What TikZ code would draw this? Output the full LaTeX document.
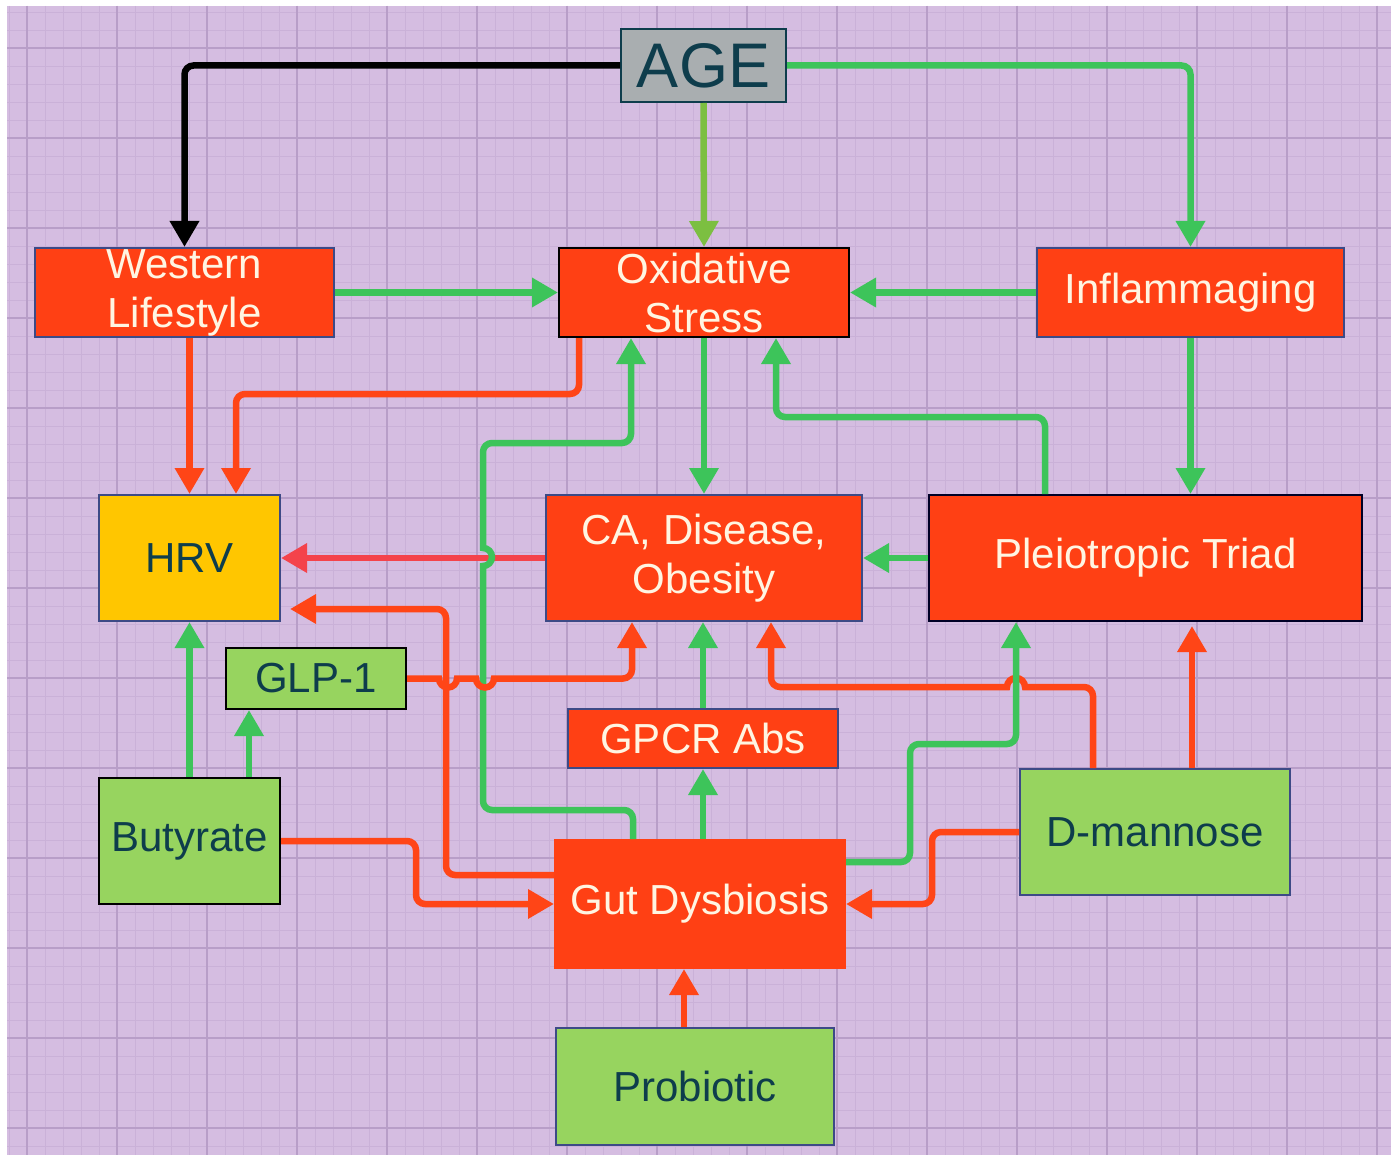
\documentclass[tikz,border=0pt]{standalone}
\usepackage{fontspec}
\setmainfont{Liberation Sans}
\usetikzlibrary{arrows.meta}
\definecolor{bgcol}{HTML}{D5BDE1}
\definecolor{mingrid}{HTML}{CAB1D8}
\definecolor{majgrid}{HTML}{B89EC8}
\definecolor{boxred}{HTML}{FF4014}
\definecolor{boxgreen}{HTML}{97D45F}
\definecolor{boxyellow}{HTML}{FFC600}
\definecolor{boxgrey}{HTML}{A9AEB0}
\definecolor{edgeblue}{HTML}{3D4A86}
\definecolor{textcream}{HTML}{FFF5E2}
\definecolor{textdark}{HTML}{0E3D4C}
\definecolor{linegreen}{HTML}{3DC45A}
\definecolor{lineolive}{HTML}{7CBF41}
\definecolor{linered}{HTML}{FF4517}
\definecolor{linepink}{HTML}{F4434B}
\tikzset{
  box/.style={draw=edgeblue, line width=2pt, inner sep=0pt, align=center,
    font=\fontsize{42}{49}\selectfont},
  redbox/.style={box, fill=boxred, text=textcream},
  greenbox/.style={box, fill=boxgreen, text=textdark},
  link/.style={line width=6.5pt, rounded corners=9pt, -{Triangle[width=28pt,length=26pt]}},
  gline/.style={link, draw=linegreen},
  rline/.style={link, draw=linered},
}
\begin{document}
\begin{tikzpicture}[x=1pt,y=1pt]
\useasboundingbox (0,0) rectangle (1396,-1155);
\fill[white] (0,0) rectangle (1396,-1155);
\fill[bgcol] (7,-6) rectangle (1391,-1155);
% grid
\foreach \x in {9,27,...,1377} \draw[mingrid, line width=0.8pt] (\x,-6) -- (\x,-1155);
\foreach \y in {12,30,...,1146} \draw[mingrid, line width=0.8pt] (7,-\y) -- (1391,-\y);
\foreach \x in {27,117,...,1377} \draw[majgrid, line width=1.3pt] (\x,-6) -- (\x,-1155);
\foreach \y in {48,138,...,1128} \draw[majgrid, line width=1.3pt] (7,-\y) -- (1391,-\y);

% boxes
\node[box, fill=boxgrey, draw=textdark, text=textdark, font=\fontsize{63}{70}\selectfont,
  minimum width=165pt, minimum height=73pt] (age) at (703.5,-65.5) {AGE};
\node[redbox, minimum width=299pt, minimum height=89pt] (western) at (184.5,-292.5) {Western\\Lifestyle};
\node[redbox, draw=black, minimum width=290pt, minimum height=89pt] (oxstress) at (704,-292.5) {Oxidative\\Stress};
\node[redbox, minimum width=307pt, minimum height=89pt] (inflam) at (1190.5,-292.5) {Inflammaging};
\node[box, fill=boxyellow, text=textdark, minimum width=181pt, minimum height=126pt] (hrv) at (189.5,-558) {HRV};
\node[redbox, minimum width=316pt, minimum height=126pt] (cad) at (704,-558) {CA, Disease,\\Obesity};
\node[redbox, draw=black!85!blue, minimum width=433pt, minimum height=126pt] (pleio) at (1145.5,-558) {Pleiotropic Triad};
\node[greenbox, draw=black, minimum width=180pt, minimum height=61pt] (glp) at (316,-678.5) {GLP-1};
\node[redbox, minimum width=270pt, minimum height=59pt] (gpcr) at (703,-738.5) {GPCR Abs};
\node[greenbox, draw=black, minimum width=181pt, minimum height=126pt] (butyrate) at (189.5,-841) {Butyrate};
\node[greenbox, minimum width=270pt, minimum height=126pt] (dmannose) at (1155,-832) {D-mannose};
\node[redbox, draw=boxred, minimum width=290pt, minimum height=128pt] (gut) at (700,-904) {Gut Dysbiosis};
\node[greenbox, minimum width=278pt, minimum height=117pt] (probiotic) at (695,-1086.5) {Probiotic};

% links
\draw[link, draw=black] (age.west) -| (western.north);
\draw[gline] (age.east) -| (inflam.north);
\draw[link, draw=lineolive] (age.south) -- (oxstress.north);
\draw[gline] (western.east) -- (oxstress.west);
\draw[gline] (inflam.west) -- (oxstress.east);
\draw[rline] (hrv.north |- western.south) -- (hrv.north);
\draw[rline] ([xshift=21pt]oxstress.south west) -- ++(0,-56) -| ([xshift=138pt]hrv.north west);
\draw[gline] (oxstress.south) -- (cad.north);
\draw[gline] (inflam.south) -- (inflam.south |- pleio.north);
\draw[gline] ([xshift=117pt]pleio.north west) -- ++(0,77) -| ([xshift=218pt]oxstress.south west);
\draw[gline] (pleio.west) -- (cad.east);
\draw[link, draw=linepink] (cad.west) -- (hrv.east);
\draw[gline] ([xshift=79pt]gut.north west) -- ++(0,29) -- ++(-150,0) [sharp corners] -- ++(0,244)
  arc[start angle=-90, end angle=90, radius=9] [rounded corners=9pt] -- ++(0,105)
  -| ([xshift=73pt]oxstress.south west);
\draw[rline] ([yshift=29pt]gut.west) -- ++(-108,0) |- ([xshift=9pt, yshift=-51pt]hrv.east);
\draw[rline] (glp.east) [sharp corners] -- ++(32,0) arc[start angle=180, end angle=360, radius=9]
  -- ++(19,0) arc[start angle=180, end angle=360, radius=9] [rounded corners=9pt]
  -| ([xshift=87pt]cad.south west);
\draw[gline] (gpcr.south |- gut.north) -- (gpcr.south);
\draw[gline] (gpcr.north) -- (gpcr.north |- cad.south);
\draw[gline] (butyrate.north) -- (hrv.south);
\draw[gline] ([xshift=151pt]butyrate.north west) -- ([xshift=24pt]glp.south west);
\draw[rline] (butyrate.east) -- ++(135,0) |- (gut.west);
\draw[rline] ([xshift=-11pt]probiotic.north) -- ([xshift=-16pt]gut.south);
\draw[rline] (dmannose.west) -- ++(-87,0) |- (gut.east);
\draw[rline] ([xshift=74pt]dmannose.north west) -- ++(0,81) [sharp corners] -- ++(-68,0)
  arc[start angle=0, end angle=180, radius=9] [rounded corners=9pt]
  -| ([xshift=226pt]cad.south west);
\draw[gline] ([yshift=42pt]gut.east) -- ++(64,0) -- ++(0,118) -| ([xshift=88pt]pleio.south west);
\draw[rline] ([xshift=37pt]dmannose.north) -- ++(0,142);
\end{tikzpicture}
\end{document}
